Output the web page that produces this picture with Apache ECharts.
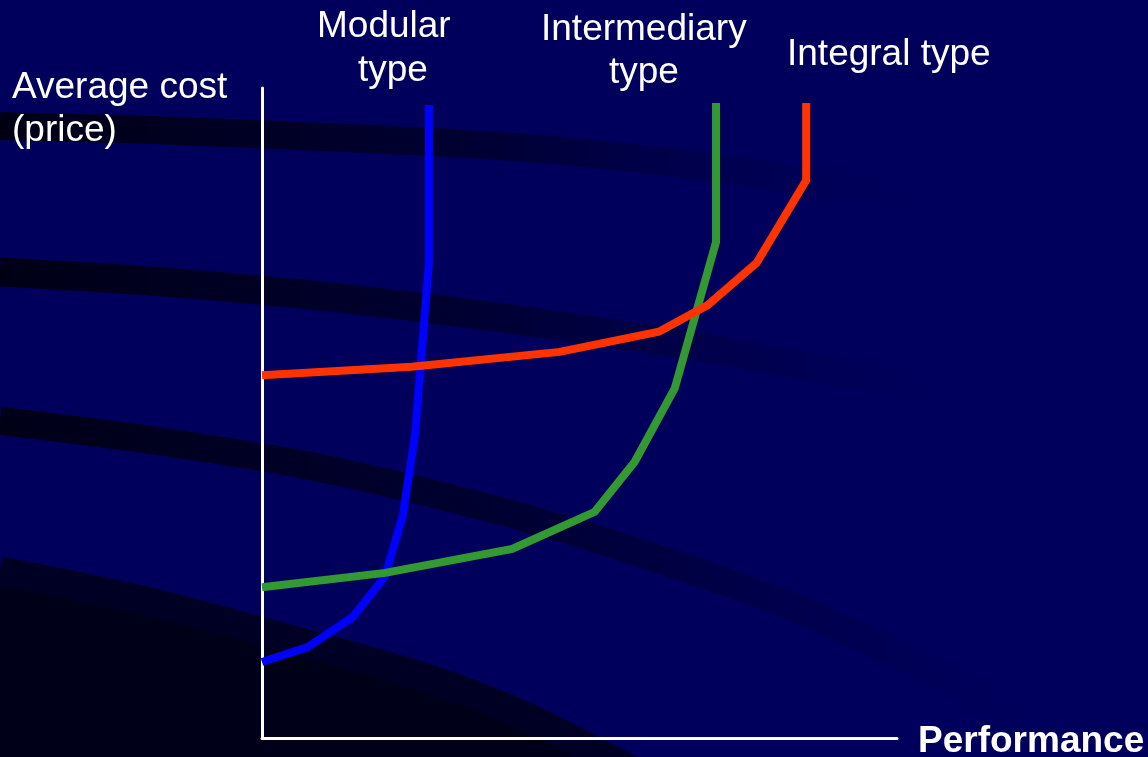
<!DOCTYPE html>
<html>
<head>
<meta charset="utf-8">
<title>Average cost vs performance by architecture type</title>
<script src="https://cdn.jsdelivr.net/npm/echarts@6/dist/echarts.min.js"></script>
<style>
  html, body { margin: 0; padding: 0; background: #00005c; }
  #chart { width: 1148px; height: 757px; }
</style>
</head>
<body>
<div id="chart"></div>
<script>
// Performance (x) and average cost (y), both on a 0–100 scale.
const seriesNames = ['Modular type', 'Intermediary type', 'Integral type'];

const modularPerf = [0, 7.2, 14.3, 19.4, 22.2, 24.1, 26.3, 26.3];
const modularCost = [11.7, 14.0, 18.6, 24.9, 34.3, 46.6, 73.2, 97.4];

const intermediaryPerf = [0, 19.4, 39.4, 52.4, 58.7, 65.0, 71.5, 71.5];
const intermediaryCost = [23.2, 25.4, 29.1, 34.8, 42.5, 53.8, 76.3, 97.7];

const integralPerf = [0, 23.6, 46.9, 62.5, 70.2, 77.9, 85.7, 85.7];
const integralCost = [55.8, 57.1, 59.4, 62.5, 66.6, 73.1, 85.8, 97.7];

const yAxisTitle = ['Average cost', '(price)'];
const xAxisTitle = 'Performance';
const curveLabels = [['Modular', 'type'], ['Intermediary', 'type'], ['Integral type']];

const seriesColors = ['#0000ff', '#339933', '#ff3300'];

function pairs(xs, ys) {
  return xs.map((x, i) => [x, ys[i]]);
}

const chart = echarts.init(document.getElementById('chart'), null, { renderer: 'canvas' });

const FONT = '"Liberation Sans", Arial, sans-serif';

function fadeStroke(stops) {
  return new echarts.graphic.LinearGradient(0, 0, 1, 0, stops);
}

// Decorative dark ribbons sweeping across the backdrop
const backdrop = [
  {
    type: 'polygon', z: -20, silent: true,
    shape: { points: [[0, 575], [150, 605], [300, 645], [420, 680], [520, 718], [620, 775], [0, 775]], smooth: 0.3 },
    style: { fill: '#000018' }
  },
  {
    type: 'polyline', z: -19, silent: true,
    shape: { points: [[0, 571], [150, 602], [300, 642], [420, 676], [520, 714], [640, 775]], smooth: 0.3 },
    style: { stroke: '#000024', lineWidth: 29, fill: null }
  },
  {
    type: 'polyline', z: -19, silent: true,
    shape: { points: [[0, 421], [150, 440], [300, 464], [450, 498], [574, 532], [700, 573], [800, 610], [920, 665], [1014, 717], [1090, 765]], smooth: 0.3 },
    style: {
      stroke: fadeStroke([
        { offset: 0, color: 'rgba(0,0,22,1)' },
        { offset: 0.45, color: 'rgba(0,0,30,0.7)' },
        { offset: 0.75, color: 'rgba(0,0,40,0.25)' },
        { offset: 0.95, color: 'rgba(0,0,60,0)' }
      ]),
      lineWidth: 28, fill: null
    }
  },
  {
    type: 'polyline', z: -19, silent: true,
    shape: { points: [[0, 272], [150, 281], [300, 294], [450, 311], [574, 328], [700, 347], [800, 365], [900, 382], [1000, 400], [1148, 430]], smooth: 0.3 },
    style: {
      stroke: fadeStroke([
        { offset: 0, color: 'rgba(0,0,20,1)' },
        { offset: 0.4, color: 'rgba(0,0,30,0.7)' },
        { offset: 0.65, color: 'rgba(0,0,40,0.25)' },
        { offset: 0.82, color: 'rgba(0,0,60,0)' }
      ]),
      lineWidth: 29, fill: null
    }
  },
  {
    type: 'polyline', z: -19, silent: true,
    shape: { points: [[0, 126], [150, 130], [300, 136], [450, 143], [574, 152], [700, 166], [800, 180], [900, 195], [1000, 212], [1148, 240]], smooth: 0.3 },
    style: {
      stroke: fadeStroke([
        { offset: 0, color: 'rgba(0,0,20,1)' },
        { offset: 0.4, color: 'rgba(0,0,30,0.7)' },
        { offset: 0.62, color: 'rgba(0,0,40,0.25)' },
        { offset: 0.8, color: 'rgba(0,0,60,0)' }
      ]),
      lineWidth: 28, fill: null
    }
  }
];

function textEl(str, x, y, opts) {
  return Object.assign({
    type: 'text', z: 50, silent: true, x: x, y: y,
    style: {
      text: str, fill: '#ffffff', font: '37px ' + FONT,
      align: 'left', verticalAlign: 'middle'
    }
  }, opts || {});
}

const labelsEls = [
  textEl(yAxisTitle[0], 12, 88),
  textEl(yAxisTitle[1], 12, 131),
  textEl(curveLabels[0][0], 317, 27),
  textEl(curveLabels[0][1], 358, 71),
  textEl(curveLabels[1][0], 541, 30),
  textEl(curveLabels[1][1], 609, 73),
  textEl(curveLabels[2][0], 787, 55),
  {
    type: 'text', z: 50, silent: true, x: 918, y: 742,
    style: { text: xAxisTitle, fill: '#ffffff', font: 'bold 37px ' + FONT, align: 'left', verticalAlign: 'middle' }
  }
];

function lineSeries(name, data, color) {
  return {
    name: name,
    type: 'line',
    data: data,
    symbol: 'none',
    clip: false,
    smooth: false,
    lineStyle: { color: color, width: 8, cap: 'butt', join: 'miter' },
    z: 5
  };
}

const option = {
  animation: false,
  backgroundColor: '#00005c',
  grid: { left: 262, top: 88, right: 251, bottom: 19, containLabel: false },
  xAxis: {
    type: 'value', min: 0, max: 100,
    axisLine: { show: true, onZero: false, lineStyle: { color: '#ffffff', width: 3 } },
    axisTick: { show: false }, axisLabel: { show: false }, splitLine: { show: false }
  },
  yAxis: {
    type: 'value', min: 0, max: 100,
    axisLine: { show: true, onZero: false, lineStyle: { color: '#ffffff', width: 3 } },
    axisTick: { show: false }, axisLabel: { show: false }, splitLine: { show: false }
  },
  graphic: { elements: backdrop.concat(labelsEls) },
  series: [
    lineSeries(seriesNames[0], pairs(modularPerf, modularCost), seriesColors[0]),
    lineSeries(seriesNames[1], pairs(intermediaryPerf, intermediaryCost), seriesColors[1]),
    lineSeries(seriesNames[2], pairs(integralPerf, integralCost), seriesColors[2])
  ]
};

chart.setOption(option);
</script>
</body>
</html>
